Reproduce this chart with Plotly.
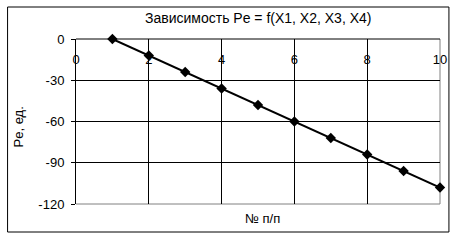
import plotly.graph_objects as go

x_vals = [1, 2, 3, 4, 5, 6, 7, 8, 9, 10]
pe_vals = [0, -12, -24, -36, -48, -60, -72, -84, -96, -108]
x_ticks = [0, 2, 4, 6, 8, 10]
y_ticks = [0, -30, -60, -90, -120]
x_grid = [2, 4, 6, 8]
y_grid = [-30, -60, -90]

title_text = "Зависимость Pe = f(X1, X2, X3, X4)"
x_title = "№ п/п"
y_title = "Pe, ед."

FONT = "Liberation Sans, Arial, sans-serif"

fig = go.Figure()
fig.add_trace(go.Scatter(
    x=x_vals, y=pe_vals, mode="lines+markers",
    line=dict(color="black", width=2),
    marker=dict(symbol="diamond", size=8, color="black"),
    showlegend=False, cliponaxis=False,
))

W, H = 459, 242
L, R, T, B = 76, 16, 39, 38
pw, ph = W - L - R, H - T - B

def px_x(px):
    return (px - L) / pw

def px_y(py):
    return (H - B - py) / ph

fig.update_layout(
    width=W, height=H,
    margin=dict(l=L, r=R, t=T, b=B),
    paper_bgcolor="white", plot_bgcolor="white",
    font=dict(family=FONT, size=13, color="black"),
    xaxis=dict(
        range=[0, 10], tickvals=x_ticks, ticktext=[str(v) for v in x_ticks],
        anchor="free", position=px_y(50), side="bottom", ticks="",
        showline=False, showgrid=False,
        minor=dict(tickvals=x_grid, showgrid=True, gridcolor="black", gridwidth=1, ticks=""),
        zeroline=False, fixedrange=True,
    ),
    yaxis=dict(
        range=[-120, 0], tickvals=y_ticks, ticktext=[str(v) for v in y_ticks],
        ticks="outside", ticklen=4, tickcolor="black",
        ticklabelstandoff=4,
        showline=True, linecolor="black", linewidth=1,
        showgrid=False,
        minor=dict(tickvals=y_grid, showgrid=True, gridcolor="black", gridwidth=1, ticks=""),
        zeroline=False, fixedrange=True,
    ),
    shapes=[
        dict(type="line", xref="x domain", yref="y domain", x0=1, x1=1, y0=0, y1=1,
             line=dict(color="#808080", width=1), layer="below"),
        dict(type="line", xref="x domain", yref="y domain", x0=0, x1=1, y0=0, y1=0,
             line=dict(color="#808080", width=1), layer="below"),
        dict(type="line", xref="x domain", yref="y domain", x0=0, x1=1, y0=1, y1=1,
             line=dict(color="black", width=1), layer="below"),
        dict(type="rect", xref="paper", yref="paper",
             x0=px_x(7), x1=px_x(452), y0=px_y(232), y1=px_y(7),
             line=dict(color="black", width=1), fillcolor="rgba(0,0,0,0)", layer="above"),
    ],
    annotations=[
        dict(text=title_text, xref="paper", yref="paper", x=px_x(260), y=px_y(18),
             xanchor="center", yanchor="middle", showarrow=False,
             font=dict(family=FONT, size=14)),
        dict(text=x_title, xref="paper", yref="paper", x=px_x(264), y=px_y(218),
             xanchor="center", yanchor="middle", showarrow=False,
             font=dict(family=FONT, size=13)),
        dict(text=y_title, xref="paper", yref="paper", x=px_x(18), y=px_y(127),
             xanchor="center", yanchor="middle", showarrow=False, textangle=-90,
             font=dict(family=FONT, size=13)),
    ],
)

fig.write_html("out.html")
